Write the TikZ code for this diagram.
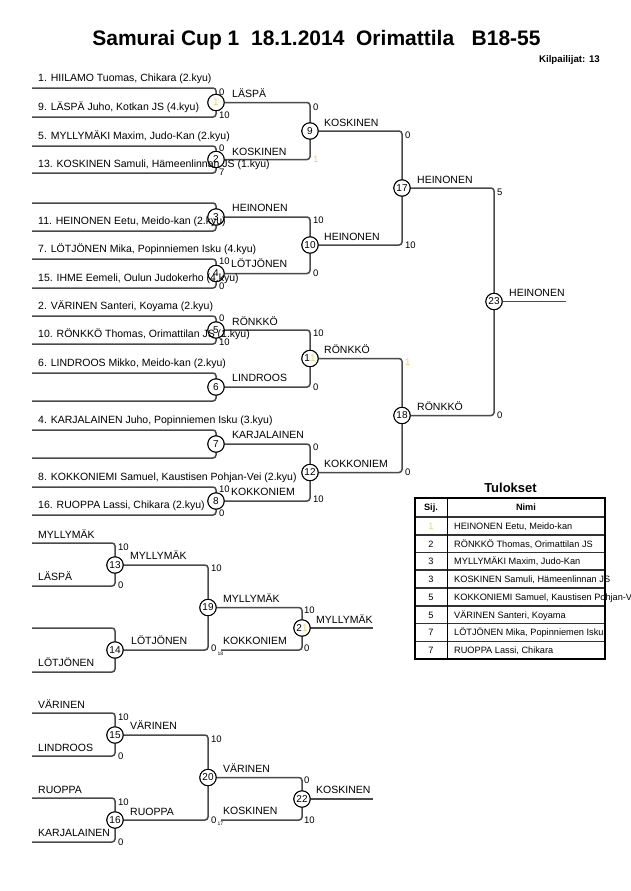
\documentclass[tikz,border=0pt]{standalone}
\usepackage{fontspec}
\setmainfont{Liberation Sans}
\definecolor{wire}{HTML}{4A4A4A}
\definecolor{faint}{HTML}{E8D866}
\newcommand{\fo}{\textcolor{faint}{1}}
\begin{document}
\begin{tikzpicture}[x=1pt,y=-1pt,
  wire/.style={draw=wire,line width=1.5pt,rounded corners=3pt},
  mc/.style={circle,draw=black,fill=white,line width=0.8pt,minimum size=16.5pt,inner sep=0pt,font=\fontsize{10}{12}\selectfont},
  nm/.style={anchor=base west,inner sep=0pt,font=\fontsize{10.5}{12}\selectfont},
  sc/.style={anchor=base west,inner sep=0pt,font=\fontsize{9.5}{11}\selectfont},
  tiny/.style={anchor=base west,inner sep=0pt,font=\fontsize{5}{6}\selectfont},
  tb/.style={anchor=base west,inner sep=0pt,font=\fontsize{9.2}{11}\selectfont},
  tbc/.style={anchor=base,inner sep=0pt,font=\fontsize{9.2}{11}\selectfont},
]
\useasboundingbox[fill=white] (0,0) rectangle (630,891);

% title
\node[anchor=base,inner sep=0pt,font=\fontsize{21}{24}\bfseries] (title) at (316.5,45.5) {Samurai Cup 1\ \ 18.1.2014\ \ Orimattila\ \ \ B18-55};
\node[anchor=base east,inner sep=0pt,font=\fontsize{9.7}{11}\bfseries] (count) at (600,62.5) {Kilpailijat: 13};

% entry line ends
\foreach \i/\y in {1/88,2/117,3/146,4/173,5/203,6/231,7/259,8/288,9/316,10/344,11/373,12/401,13/430,14/458,15/487,16/515}
  \coordinate (p\i) at (32,\y);
\foreach \i/\x/\y in {1/32/543,2/32/586,3/32/628,4/32/672,5/32/713,6/32/756,7/32/798,8/32/842}
  \coordinate (r\i) at (\x,\y);
\coordinate (q1) at (221,650);
\coordinate (q2) at (221,820);
\coordinate (fin) at (566,301.5);
\coordinate (fin21) at (373,628);
\coordinate (fin22) at (373,799);

% circles
\node[mc] (m1) at (216,102.5) {\fo};
\node[mc] (m2) at (216,159.5) {2};
\node[mc] (m3) at (216,217) {3};
\node[mc] (m4) at (216,273.5) {4};
\node[mc] (m5) at (216,330) {5};
\node[mc] (m6) at (216,387) {6};
\node[mc] (m7) at (216,444) {7};
\node[mc] (m8) at (216,501) {8};
\node[mc] (m9) at (310,131) {9};
\node[mc] (m10) at (310,245) {10};
\node[mc] (m11) at (310,358.5) {1\fo};
\node[mc] (m12) at (310,472.5) {12};
\node[mc] (m17) at (402,188) {17};
\node[mc] (m18) at (402,415.5) {18};
\node[mc] (m23) at (494,301.5) {23};
\node[mc] (m13) at (115,565) {13};
\node[mc] (m14) at (115,650) {14};
\node[mc] (m19) at (208,607.5) {19};
\node[mc] (m21) at (302,628) {2\fo};
\node[mc] (m15) at (115,735) {15};
\node[mc] (m16) at (115,820) {16};
\node[mc] (m20) at (208,777.5) {20};
\node[mc] (m22) at (302,799) {22};

% wires
\foreach \a/\b in {p1/m1,p2/m1,p3/m2,p4/m2,p5/m3,p6/m3,p7/m4,p8/m4,p9/m5,p10/m5,p11/m6,p12/m6,p13/m7,p14/m7,p15/m8,p16/m8,
  m1/m9,m2/m9,m3/m10,m4/m10,m5/m11,m6/m11,m7/m12,m8/m12,m9/m17,m10/m17,m11/m18,m12/m18,m17/m23,m18/m23,
  r1/m13,r2/m13,r3/m14,r4/m14,m13/m19,m14/m19,m19/m21,q1/m21,
  r5/m15,r6/m15,r7/m16,r8/m16,m15/m20,m16/m20,m20/m22,q2/m22}
  \draw[wire] (\a) -| (\b);
\draw[wire] (m23) -- (fin);
\draw[wire] (m21) -- (fin21);
\draw[wire] (m22) -- (fin22);

% circle outlines on top of the wires
\foreach \c in {m1,m2,m3,m4,m5,m6,m7,m8,m9,m10,m11,m12,m17,m18,m23,m13,m14,m19,m21,m15,m16,m20,m22}
  \draw[black,line width=0.8pt] (\c) circle (8.25pt);

% entry names
\node[nm] (n1) at (38,81.5) {1. HIILAMO Tuomas, Chikara (2.kyu)};
\node[nm] (n2) at (38,110.5) {9. LÄSPÄ Juho, Kotkan JS (4.kyu)};
\node[nm] (n3) at (38,139) {5. MYLLYMÄKI Maxim, Judo-Kan (2.kyu)};
\node[nm] (n4) at (38,167) {13. KOSKINEN Samuli, Hämeenlinnan JS (1.kyu)};
\node[nm] (n6) at (38,224.5) {11. HEINONEN Eetu, Meido-kan (2.kyu)};
\node[nm] (n7) at (38,252.5) {7. LÖTJÖNEN Mika, Popinniemen Isku (4.kyu)};
\node[nm] (n8) at (38,281) {15. IHME Eemeli, Oulun Judokerho (4.kyu)};
\node[nm] (n9) at (38,309.5) {2. VÄRINEN Santeri, Koyama (2.kyu)};
\node[nm] (n10) at (38,337.5) {10. RÖNKKÖ Thomas, Orimattilan JS (1.kyu)};
\node[nm] (n11) at (38,366.5) {6. LINDROOS Mikko, Meido-kan (2.kyu)};
\node[nm] (n13) at (38,423.5) {4. KARJALAINEN Juho, Popinniemen Isku (3.kyu)};
\node[nm] (n15) at (38,480.5) {8. KOKKONIEMI Samuel, Kaustisen Pohjan-Vei (2.kyu)};
\node[nm] (n16) at (38,508.5) {16. RUOPPA Lassi, Chikara (2.kyu)};
\node[nm] (e1) at (38,538.5) {MYLLYMÄK};
\node[nm] (e2) at (38,580.5) {LÄSPÄ};
\node[nm] (e4) at (38,666.5) {LÖTJÖNEN};
\node[nm] (e5) at (38,708.5) {VÄRINEN};
\node[nm] (e6) at (38,751.5) {LINDROOS};
\node[nm] (e7) at (38,793.5) {RUOPPA};
\node[nm] (e8) at (38,836.5) {KARJALAINEN};

% winner labels
\foreach \n/\x/\y/\t in {w1/232/97.5/LÄSPÄ,w2/232/155.5/KOSKINEN,w3/232/211.5/HEINONEN,w4/231/267.5/LÖTJÖNEN,
  w5/232/325.5/RÖNKKÖ,w6/232/381.5/LINDROOS,w7/232/438.5/KARJALAINEN,w8/231/495.5/KOKKONIEM,
  w9/324/126.5/KOSKINEN,w10/324/240.5/HEINONEN,w11/324/353.5/RÖNKKÖ,w12/324/467.5/KOKKONIEM,
  w17/417/183.5/HEINONEN,w18/417/410.5/RÖNKKÖ,w23/509/296.5/HEINONEN,
  w13/130/559.5/MYLLYMÄK,w14/131/644.5/LÖTJÖNEN,w19/223/602.5/MYLLYMÄK,wq1/223/644.5/KOKKONIEM,w21/316/623.5/MYLLYMÄK,
  w15/130/729.5/VÄRINEN,w16/130/815.5/RUOPPA,w20/223/772.5/VÄRINEN,wq2/223/814.5/KOSKINEN,w22/316/793.5/KOSKINEN}
  \node[nm] (\n) at (\x,\y) {\t};

% scores
\foreach \n/\x/\y/\t in {s1a/219/95/0,s1b/219/118.5/10,s2a/219/151/0,s2b/219/175.5/7,
  s4a/219/264.5/10,s4b/219/289/0,s5a/219/321/0,s5b/219/345.5/10,s8a/219/492/10,s8b/219/516.5/0,
  s9a/313/110.5/0,s10a/313/223.5/10,s10b/313/276.5/0,s11a/313/336.5/10,s11b/313/390.5/0,
  s12a/313/450.5/0,s12b/313/502.5/10,s17a/405/138.5/0,s17b/405/248.5/10,s18b/405/475.5/0,
  s23a/497/195.5/5,s23b/497/418.5/0,
  s13a/118/550.5/10,s13b/118/588.5/0,s15a/118/720.5/10,s15b/118/759.5/0,s16a/118/805.5/10,s16b/118/845.5/0,
  s19a/211/571.5/10,s19b/211/651.5/0,s20a/211/742.5/10,s20b/211/823.5/0,
  s21a/304/613.5/10,s21b/304/651.5/0,s22a/304/783.5/0,s22b/304/823.5/10}
  \node[sc] (\n) at (\x,\y) {\t};
\node[sc] (s9b) at (313,162.5) {\fo};
\node[sc] (s18a) at (405,365.5) {\fo};
\node[tiny] (t18) at (217.5,655) {18};
\node[tiny] (t17) at (217.5,825.5) {17};

% results table
\node[anchor=base,inner sep=0pt,font=\fontsize{13}{15}\bfseries] (tul) at (510.5,492.5) {Tulokset};
\foreach \y in {517,535,552.5,570,588,606,623.5,641.5}
  \draw[draw=black!80,line width=1.3pt] (415,\y) -- (605,\y);
\draw[line width=1pt] (447,498) -- (447,659);
\draw[line width=1.5pt] (415,498) rectangle (605,659);
\node[tbc,font=\fontsize{9.2}{11}\bfseries] (h1) at (431,510.8) {Sij.};
\node[tbc,font=\fontsize{9.2}{11}\bfseries] (h2) at (526,510.8) {Nimi};
\foreach \n/\y/\r/\t in {1/529.3/\fo/{HEINONEN Eetu, Meido-kan},2/547/2/{RÖNKKÖ Thomas, Orimattilan JS},
  3/564.6/3/{MYLLYMÄKI Maxim, Judo-Kan},4/582.3/3/{KOSKINEN Samuli, Hämeenlinnan JS},
  5/600.3/5/{KOKKONIEMI Samuel, Kaustisen Pohjan-Vei},6/618/5/{VÄRINEN Santeri, Koyama},
  7/635.8/7/{LÖTJÖNEN Mika, Popinniemen Isku},8/653.6/7/{RUOPPA Lassi, Chikara}}
{
  \node[tbc] (rk\n) at (431,\y) {\r};
  \node[tb] (rn\n) at (454,\y) {\t};
}
\end{tikzpicture}
\end{document}
